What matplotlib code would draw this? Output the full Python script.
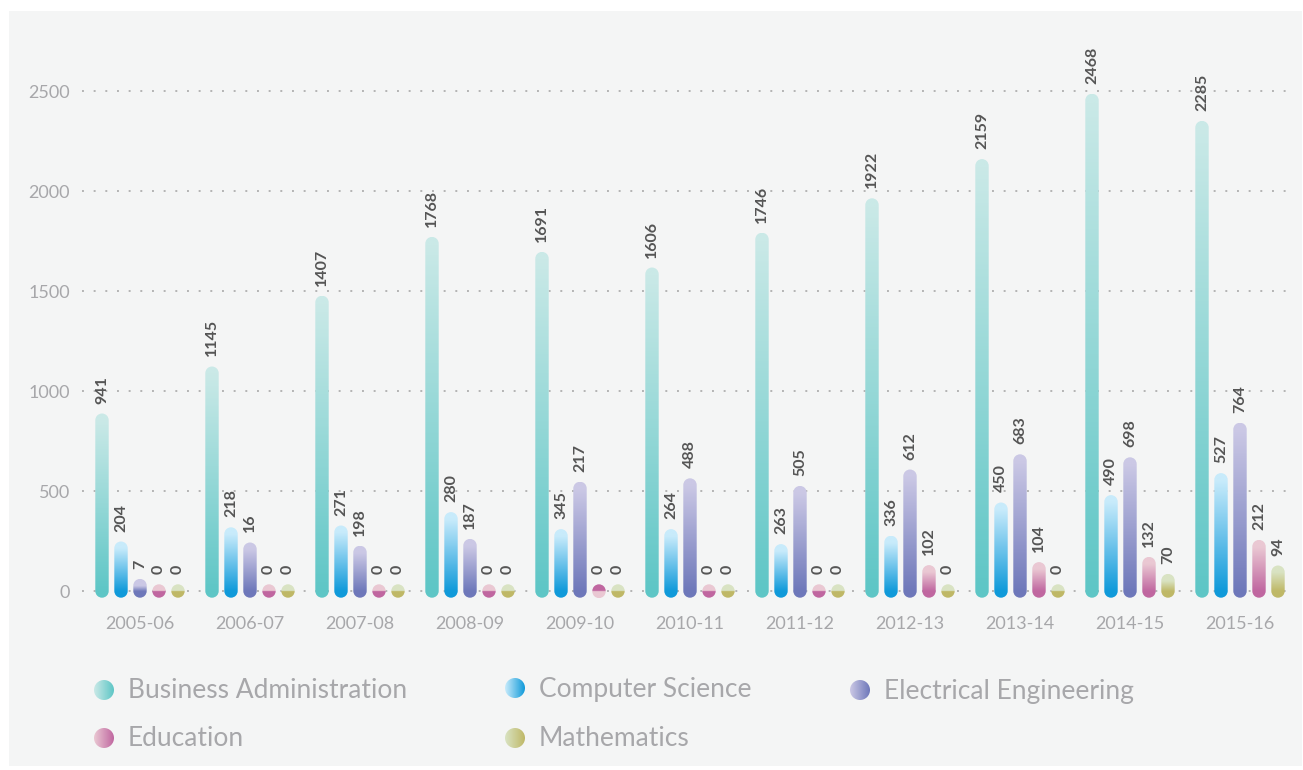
import matplotlib
matplotlib.use("Agg")
import matplotlib.pyplot as plt
import numpy as np
from matplotlib.path import Path
from matplotlib.patches import PathPatch, Rectangle, Circle
from matplotlib.colors import LinearSegmentedColormap

# years on the x axis
years = ['2005-06', '2006-07', '2007-08', '2008-09', '2009-10', '2010-11',
         '2011-12', '2012-13', '2013-14', '2014-15', '2015-16']
series = ['Business Administration', 'Computer Science', 'Electrical Engineering',
          'Education', 'Mathematics']

# value labels printed above the bars
ba_labels = [941, 1145, 1407, 1768, 1691, 1606, 1746, 1922, 2159, 2468, 2285]
cs_labels = [204, 218, 271, 280, 345, 264, 263, 336, 450, 490, 527]
ee_labels = [7, 16, 198, 187, 217, 488, 505, 612, 683, 698, 764]
ed_labels = [0, 0, 0, 0, 0, 0, 0, 102, 104, 132, 212]
ma_labels = [0, 0, 0, 0, 0, 0, 0, 0, 0, 70, 94]

# bar heights as drawn in the picture (they don't match the labels exactly)
ba_heights = [854, 1089, 1443, 1737, 1662, 1584, 1758, 1930, 2126, 2453, 2317]
cs_heights = [214, 285, 294, 361, 276, 276, 201, 243, 409, 446, 556]
ee_heights = [27, 209, 193, 227, 513, 530, 492, 574, 650, 635, 808]
ed_heights = [0, 0, 0, 0, -2, 0, 0, 96, 111, 137, 222]
ma_heights = [0, 0, 0, 0, 0, 0, 0, 0, 0, 52, 94]

y_ticks = [0, 500, 1000, 1500, 2000, 2500]

# (dark bottom, light top)
colors = [('#5ec6c6', '#cae9e7'),
          ('#109ada', '#c8ebfb'),
          ('#6e78ba', '#cbc8e5'),
          ('#c067a0', '#eac8d3'),
          ('#bfb867', '#d9e3c3')]

labels = [ba_labels, cs_labels, ee_labels, ed_labels, ma_labels]
heights = [ba_heights, cs_heights, ee_heights, ed_heights, ma_heights]

W, H = 1303, 770
fig = plt.figure(figsize=(W / 100, H / 100), dpi=100)
fig.patch.set_facecolor('white')

# background panel + legend live on a pixel-space axes behind everything
bg = fig.add_axes([0, 0, 1, 1], zorder=-1)
bg.set_xlim(0, W)
bg.set_ylim(H, 0)
bg.axis('off')
bg.add_patch(Rectangle((9, 11), W - 10, 755, facecolor='#f4f5f5', edgecolor='none', zorder=0))

ax_l, ax_r, ax_top, ax_bot = 82, 1292, 91 - 12, 601
ax = fig.add_axes([ax_l / W, (H - ax_bot) / H, (ax_r - ax_l) / W, (ax_bot - ax_top) / H])
ax.set_facecolor('none')
xlim = ((ax_l - 140) / 110, (ax_r - 140) / 110)
ylim = (-50, 2500 + 12 * 5)

# pixel sizes -> data units
x_per_px = (xlim[1] - xlim[0]) / (ax_r - ax_l)
y_per_px = (ylim[1] - ylim[0]) / (ax_bot - ax_top)
rx = 6.7 * x_per_px
ry = 6.7 * y_per_px
step = 19 * x_per_px


def capsule(xc, y0, y1):
    top = Path.arc(0, 180)
    bot = Path.arc(180, 360)
    vt = top.vertices * [rx, ry] + [xc, y1]
    vb = bot.vertices * [rx, ry] + [xc, y0]
    ct = top.codes.copy()
    cb = bot.codes.copy()
    cb[0] = Path.LINETO
    verts = np.vstack([vt, vb, vt[:1]])
    codes = np.concatenate([ct, cb, [Path.CLOSEPOLY]])
    return Path(verts, codes)


for j in range(5):
    cmap = LinearSegmentedColormap.from_list('c%d' % j, colors[j])
    for i in range(len(years)):
        v = heights[j][i]
        xc = i + (j - 2) * step
        lo = min(0, v) - ry
        hi = max(0, v) + ry
        ys = np.linspace(lo, hi, 300)
        vv = v if v != 0 else 1e-9
        t = np.clip(ys / vv, 0, 1)
        im = ax.imshow(t[:, None], extent=[xc - rx, xc + rx, lo, hi], origin='lower',
                       cmap=cmap, vmin=0, vmax=1, aspect='auto',
                       interpolation='bilinear', zorder=3)
        patch = PathPatch(capsule(xc, min(0, v), max(0, v)), transform=ax.transData,
                          facecolor='none', edgecolor='none')
        ax.add_patch(patch)
        im.set_clip_path(patch)
        ax.text(xc, max(0, v) + ry + 10 * y_per_px, str(labels[j][i]), rotation=90,
                ha='center', va='bottom', fontsize=11.5, fontweight='bold',
                color='#555555', family='Lato', zorder=4)

ax.set_xlim(*xlim)
ax.set_ylim(*ylim)
ax.set_xticks(range(len(years)))
ax.set_xticklabels(years)
ax.set_yticks(y_ticks)
ax.set_yticklabels([str(v) for v in y_ticks])
ax.tick_params(length=0, labelsize=13, labelcolor='#a7a7aa')
ax.tick_params(axis='y', pad=8.5)
ax.tick_params(axis='x', pad=11)
for lab in ax.get_xticklabels() + ax.get_yticklabels():
    lab.set_family('Lato')
for s in ax.spines.values():
    s.set_visible(False)
ax.yaxis.grid(True, color='#b4b4b4', linestyle=(0, (1, 5)), linewidth=1.4, zorder=0)
ax.set_axisbelow(True)

# legend, drawn by hand in pixel coordinates
leg_pos = [(104, 690), (515, 688), (860, 690), (104, 738), (515, 738)]
for j, (cx, cy) in enumerate(leg_pos):
    cmap = LinearSegmentedColormap.from_list('l%d' % j, [colors[j][1], colors[j][0]])
    im = bg.imshow(np.linspace(0, 1, 100)[None, :], extent=[cx - 10, cx + 10, cy + 10, cy - 10],
                   cmap=cmap, aspect='auto', interpolation='bilinear', zorder=3)
    circ = Circle((cx, cy), 10, transform=bg.transData, facecolor='none', edgecolor='none')
    bg.add_patch(circ)
    im.set_clip_path(circ)
    bg.text(cx + 24, cy + 1, series[j], ha='left', va='center', fontsize=19,
            color='#a7a7aa', family='Lato', zorder=4)
bg.set_xlim(0, W)
bg.set_ylim(H, 0)

fig.savefig('out.png', dpi=100)
